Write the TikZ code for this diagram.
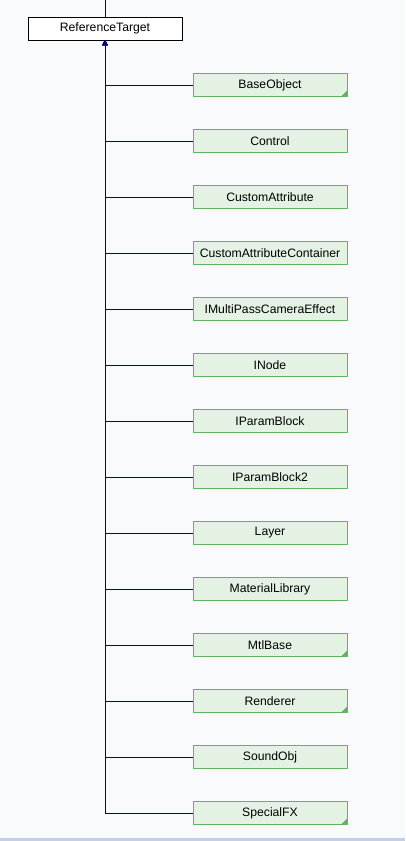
\documentclass[tikz,border=0pt]{standalone}
\usepackage{fontspec}
\setmainfont{Liberation Sans}
\usetikzlibrary{arrows.meta}
\definecolor{bgc}{HTML}{F9FAFC}
\definecolor{edgec}{HTML}{000080}
\definecolor{boxfill}{HTML}{E4F2E4}
\definecolor{boxline}{HTML}{63B363}
\definecolor{footc}{HTML}{C4CFE8}
\tikzset{
  parentbox/.style={draw=black, fill=white, line width=1pt, minimum width=154pt, minimum height=23pt, inner sep=0pt, font=\fontsize{12.2}{14}\selectfont},
  childbox/.style={draw=boxline, fill=boxfill, line width=1pt, minimum width=154pt, minimum height=23pt, inner sep=0pt, font=\fontsize{12.2}{14}\selectfont},
  edge/.style={draw=edgec, line width=1pt, -{Triangle[width=5pt,length=5pt]}},
  plainedge/.style={draw=edgec, line width=1pt},
}
\newcommand{\cornermark}[1]{\fill[boxline] ([xshift=-0.5pt,yshift=-0.5pt]#1.north east) -- ++(0,-6) -- ++(-6,6) -- cycle;}
\begin{document}
\begin{tikzpicture}[x=1pt,y=-1pt]
\useasboundingbox (0,0) rectangle (405,841);
\fill[bgc] (0,0) rectangle (405,841);
\fill[footc] (0,838) rectangle (405,841);
\node[parentbox] (rt) at (105,28.5) {ReferenceTarget};
\coordinate (top) at (105,0);
\draw[plainedge] (top) -- (rt.north);
\foreach \name/\lab [count=\i from 0] in {
  c0/BaseObject, c1/Control, c2/CustomAttribute, c3/CustomAttributeContainer,
  c4/IMultiPassCameraEffect, c5/INode, c6/IParamBlock, c7/IParamBlock2,
  c8/Layer, c9/MaterialLibrary, c10/MtlBase, c11/Renderer, c12/SoundObj, c13/SpecialFX}{
  \node[childbox] (\name) at (270,85+56*\i) {\lab};
  \draw[edge] (\name.west) -| ([yshift=0.5pt]rt.south);
}
\foreach \n in {c0,c10,c11,c13}{
  \fill[boxline] ([xshift=-0.5pt,yshift=0.5pt]\n.south east) -- ++(0,-6) -- ++(-6,6) -- cycle;
}
\end{tikzpicture}
\end{document}
